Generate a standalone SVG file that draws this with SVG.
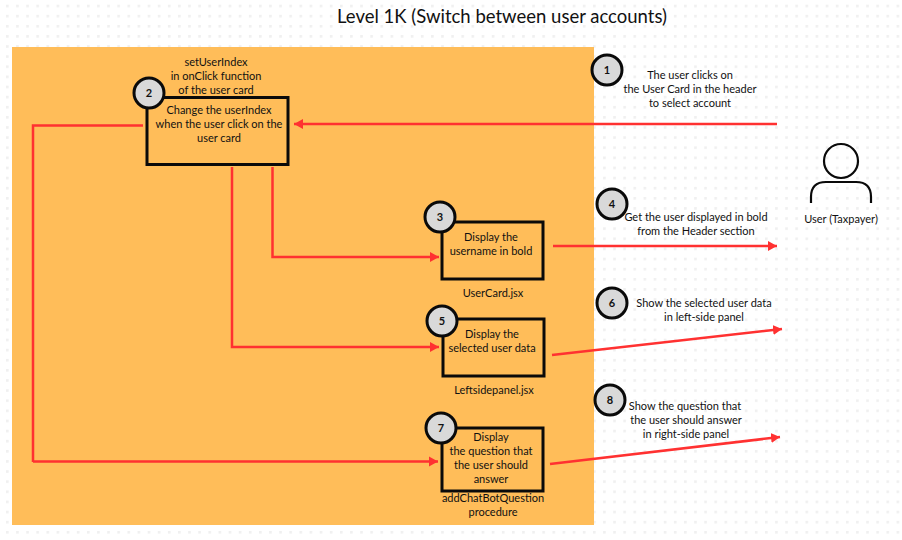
<svg xmlns="http://www.w3.org/2000/svg" width="902" height="540" viewBox="0 0 902 540">
<style>
text{font-family:"Lato","Liberation Sans",sans-serif;font-size:11px;fill:#111;text-anchor:middle}
.title{font-size:18.5px}
.box{fill:none;stroke:#0a0a0a;stroke-width:3}
.badge{fill:#d9d9d9;stroke:#0a0a0a;stroke-width:3}
.num{font-weight:700;font-size:11px}
.wire{fill:none;stroke:#ff3131;stroke-width:2.5;marker-end:url(#arrow)}
.plain{fill:none;stroke:#ff3131;stroke-width:2.5}
</style>
<defs>
<pattern id="dots" x="6" y="4.7" width="10.12" height="10.12" patternUnits="userSpaceOnUse"><rect x="0" y="0" width="2.6" height="2.6" fill="#f0f0f0"/></pattern>
<marker id="arrow" markerUnits="userSpaceOnUse" markerWidth="12" markerHeight="12" refX="9" refY="6" orient="auto"><path d="M0 1L9 6L0 11Z" fill="#ff3131"/></marker>
</defs>
<rect width="902" height="540" fill="#fff"/>
<rect width="902" height="540" fill="url(#dots)"/>
<rect x="12" y="47" width="582" height="478" fill="#ffbd59"/>
<text class="title" x="502" y="23">Level 1K (Switch between user accounts)</text>
<g id="connectors">
<path class="wire" d="M777 124H294"/>
<path class="plain" d="M143 125.5H33V462"/>
<path class="wire" d="M33 461.500H438"/>
<path class="wire" d="M232 167V347H439"/>
<path class="wire" d="M272.500 167V257H439"/>
<path class="wire" d="M553 246H777"/>
<path class="wire" d="M552 355L782 329"/>
<path class="wire" d="M550 464L780 437"/>
</g>
<g id="n2"><rect class="box" x="147" y="97.500" width="141" height="67"/><circle class="badge" cx="149" cy="93" r="15"/><text class="num" x="149" y="97">2</text>
<text x="216" y="66">setUserIndex</text><text x="216" y="80">in onClick function</text><text x="216" y="94">of the user card</text>
<text x="219" y="114">Change the userIndex</text><text x="219" y="128">when the user click on the</text><text x="219" y="142">user card</text></g>
<g id="n3"><rect class="box" x="442" y="222" width="101" height="57"/><circle class="badge" cx="440" cy="217" r="15"/><text class="num" x="440" y="221">3</text>
<text x="491" y="241">Display the</text><text x="491" y="255">username in bold</text><text x="493" y="297">UserCard.jsx</text></g>
<g id="n5"><rect class="box" x="443" y="319" width="101" height="57"/><circle class="badge" cx="442" cy="321" r="15"/><text class="num" x="442" y="325">5</text>
<text x="492" y="338">Display the</text><text x="492" y="352">selected user data</text><text x="494" y="394">Leftsidepanel.jsx</text></g>
<g id="n7"><rect class="box" x="442" y="428" width="101" height="63"/><circle class="badge" cx="441" cy="428" r="15"/><text class="num" x="441" y="432">7</text>
<text x="491" y="441">Display</text><text x="491" y="455">the question that</text><text x="491" y="469">the user should</text><text x="491" y="483">answer</text>
<text x="493" y="502">addChatBotQuestion</text><text x="493" y="516">procedure</text></g>
<g id="n1"><circle class="badge" cx="607" cy="70" r="15"/><text class="num" x="607" y="74">1</text>
<text x="690" y="79">The user clicks on</text><text x="690" y="93">the User Card in the header</text><text x="690" y="107">to select account</text></g>
<g id="n4"><circle class="badge" cx="612" cy="204" r="15"/><text class="num" x="612" y="208">4</text>
<text x="696" y="221">Get the user displayed in bold</text><text x="696" y="235">from the Header section</text></g>
<g id="n6"><circle class="badge" cx="612" cy="303" r="15"/><text class="num" x="612" y="307">6</text>
<text x="704" y="307">Show the selected user data</text><text x="704" y="321">in left-side panel</text></g>
<g id="n8"><circle class="badge" cx="610" cy="400" r="15"/><text class="num" x="610" y="404">8</text>
<text x="685" y="410">Show the question that</text><text x="686" y="424">the user should answer</text><text x="686" y="438">in right-side panel</text></g>
<g id="user"><circle cx="841" cy="161" r="17" fill="none" stroke="#0a0a0a" stroke-width="2.2"/><path d="M811 203V197Q811 182 826 182H856Q871 182 871 197V203" fill="none" stroke="#0a0a0a" stroke-width="2.2"/><text x="841" y="223">User (Taxpayer)</text></g>
</svg>
